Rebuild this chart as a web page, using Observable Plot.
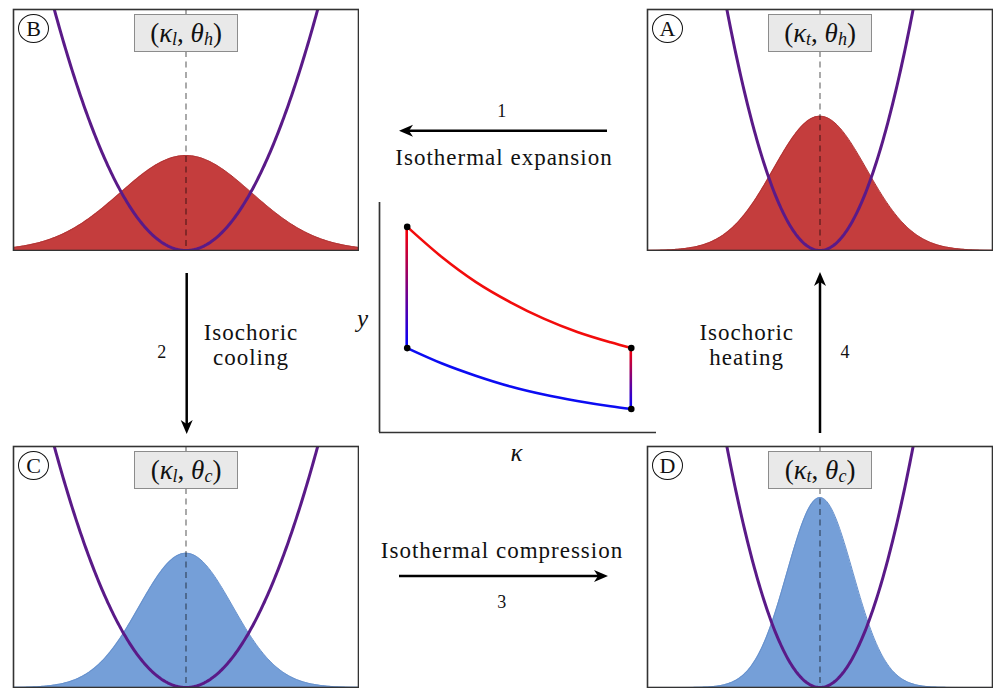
<!DOCTYPE html>
<html><head><meta charset="utf-8">
<script src="https://cdn.jsdelivr.net/npm/d3@7"></script>
<script src="https://cdn.jsdelivr.net/npm/@observablehq/plot@0.6"></script>
<style>
html,body{margin:0;padding:0;background:#fff;overflow:hidden}
#fig{position:relative;width:994px;height:688px;overflow:hidden;color:#111;background:#fff}
#fig div{font-family:"Liberation Serif","DejaVu Serif",serif}
.abs{position:absolute}
.t{position:absolute;white-space:nowrap;transform:translate(-50%,-50%);line-height:1;font-size:23px;letter-spacing:1px}
.num{position:absolute;white-space:nowrap;transform:translate(-50%,-50%);line-height:1;font-size:18px}
.circ{position:absolute;width:31px;height:29px;border:1.3px solid #111;border-radius:50%;display:flex;align-items:center;justify-content:center;font-size:22px;box-sizing:border-box;background:transparent}
.box{position:absolute;width:104px;height:38px;border:1.6px solid #8c8c8c;background:#e9e9e9;box-sizing:border-box;display:flex;align-items:center;justify-content:center;font-size:27px;transform:translateX(-50%);white-space:nowrap;line-height:1}
.box .sb{display:inline-block;font-size:18px;position:relative;top:6px;font-style:italic}
.box .it{font-style:italic}
</style>
</head><body>
<div id="fig"></div>
<script>
// ---------- data ----------
// stiffness and temperature labels with their relative values
const kappaNames = ["l", "t"];
const kappaValues = [1.0, 2.0];
const thetaNames = ["h", "c"];
const thetaValues = [1.0, 0.5];
// four states of the cycle (panel order: B, A, C, D)
const panelStates = ["B", "A", "C", "D"];
const panelKappa = ["l", "t", "l", "t"];
const panelTheta = ["h", "h", "c", "c"];
// peak height scale of the distribution (in potential units)
const densityScale = [0.788];
// position range of the panels and top of the potential axis
const positionExtent = [-2.62, 2.62];
const potentialMax = [2.0];

// cycle diagram (kappa, y)
const cycleKappa = [1.0, 2.26, 3.47, 4.73, 5.93, 7.14, 8.34, 9.09];
const hotY  = [0.894, 0.762, 0.655, 0.566, 0.495, 0.437, 0.392, 0.367];
const coldY = [0.367, 0.300, 0.247, 0.200, 0.165, 0.137, 0.114, 0.102];

// transition labels
const stepNumbers = ["1", "2", "3", "4"];
const stepNames = ["Isothermal expansion", "Isochoric cooling", "Isothermal compression", "Isochoric heating"];

// ---------- styles & layout ----------
const hotFill = "#c43d3d", hotEdge = "#b03434";
const coldFill = "#759fd8", coldEdge = "#6690cc";
const potColor = "#5a1a88";
const fig = document.getElementById("fig");
const panelPos = {B: [12, 8], A: [646, 8], C: [12, 445], D: [646, 445]};

function kv(n){ return kappaValues[kappaNames.indexOf(n)]; }
function tv(n){ return thetaValues[thetaNames.indexOf(n)]; }

const xs = d3.range(0, 301).map(i => positionExtent[0] + (positionExtent[1]-positionExtent[0]) * i / 300);

panelStates.forEach((s, i) => {
  const k = kv(panelKappa[i]), th = tv(panelTheta[i]);
  const hot = panelTheta[i] === "h";
  const amp = densityScale[0] * Math.sqrt(k / th);
  const dens = xs.map(x => ({x, p: amp * Math.exp(-k * x * x / (2 * th))}));
  const pot = xs.map(x => ({x, v: k * x * x / 2}));
  const chart = Plot.plot({
    width: 347, height: 243, margin: 1,
    x: {domain: positionExtent, axis: null},
    y: {domain: [0, potentialMax[0]], axis: null},
    marks: [
      Plot.areaY(dens, {x: "x", y: "p", fill: hot ? hotFill : coldFill}),
      Plot.line(dens, {x: "x", y: "p", stroke: hot ? hotEdge : coldEdge, strokeWidth: 1}),
      Plot.ruleX([0], {stroke: "#000", strokeOpacity: 0.42, strokeWidth: 1.6, strokeDasharray: "6,4.5"}),
      Plot.line(pot, {x: "x", y: "v", stroke: potColor, strokeWidth: 3, clip: true}),
      Plot.frame({stroke: "#333", strokeWidth: 1.6})
    ]
  });
  const wrap = document.createElement("div");
  wrap.className = "abs";
  wrap.style.left = panelPos[s][0] + "px";
  wrap.style.top = panelPos[s][1] + "px";
  wrap.appendChild(chart);
  fig.appendChild(wrap);
  const c = document.createElement("div");
  c.className = "circ";
  c.style.left = (panelPos[s][0] + 6) + "px";
  c.style.top = (panelPos[s][1] + 6) + "px";
  c.textContent = s;
  fig.appendChild(c);
  const b = document.createElement("div");
  b.className = "box";
  b.style.left = (panelPos[s][0] + 174) + "px";
  b.style.top = (panelPos[s][1] + 6) + "px";
  b.innerHTML = `(<span class="it">κ</span><span class="sb">${panelKappa[i]}</span>,&nbsp;<span class="it">θ</span><span class="sb">${panelTheta[i]}</span>)`;
  fig.appendChild(b);
});

// ---------- centre cycle plot ----------
const cyc = cycleKappa.map((k, i) => ({k, hot: hotY[i], cold: coldY[i]}));
const n = cyc.length - 1;
const corners = [
  {k: cycleKappa[0], y: hotY[0]}, {k: cycleKappa[0], y: coldY[0]},
  {k: cycleKappa[n], y: hotY[n]}, {k: cycleKappa[n], y: coldY[n]}
];
function gradSeg(id, k, yTop, yBot, cTop, cBot) {
  return (index, scales) => {
    const X = scales.x(k), Y1 = scales.y(yTop), Y2 = scales.y(yBot);
    const g = d3.create("svg:g");
    const lg = g.append("defs").append("linearGradient").attr("id", id)
      .attr("gradientUnits", "userSpaceOnUse")
      .attr("x1", X).attr("x2", X).attr("y1", Y1).attr("y2", Y2);
    lg.append("stop").attr("offset", 0).attr("stop-color", cTop);
    lg.append("stop").attr("offset", 1).attr("stop-color", cBot);
    g.append("line").attr("x1", X).attr("x2", X).attr("y1", Y1).attr("y2", Y2)
      .attr("stroke", `url(#${id})`).attr("stroke-width", 2.6);
    return g.node();
  };
}
const cycleChart = Plot.plot({
  width: 300, height: 250, marginLeft: 10, marginTop: 10, marginBottom: 10, marginRight: 13,
  x: {domain: [0, 10], axis: null},
  y: {domain: [0, 1], axis: null},
  marks: [
    Plot.ruleX([0], {y1: 0, y2: 1, stroke: "#333", strokeWidth: 1.7}),
    Plot.ruleY([0], {x1: 0, x2: 10, stroke: "#333", strokeWidth: 1.7}),
    gradSeg("gl", cycleKappa[0], hotY[0], coldY[0], "#ff0000", "#0000ff"),
    gradSeg("gr", cycleKappa[n], hotY[n], coldY[n], "#ff0000", "#0000ff"),
    Plot.line(cyc, {x: "k", y: "hot", stroke: "#f20c0c", strokeWidth: 2.6, curve: "monotone-x"}),
    Plot.line(cyc, {x: "k", y: "cold", stroke: "#0c0cf2", strokeWidth: 2.6, curve: "monotone-x"}),
    Plot.dot(corners, {x: "k", y: "y", r: 3.3, fill: "#000"})
  ]
});
const cw = document.createElement("div");
cw.className = "abs"; cw.style.left = "369px"; cw.style.top = "192px";
cw.appendChild(cycleChart);
fig.appendChild(cw);

// ---------- arrows ----------
const NS = "http://www.w3.org/2000/svg";
const ov = document.createElementNS(NS, "svg");
ov.setAttribute("width", 994); ov.setAttribute("height", 688);
ov.style.position = "absolute"; ov.style.left = "0"; ov.style.top = "0";
function arrow(x1, y1, x2, y2) {
  const L = Math.hypot(x2 - x1, y2 - y1), dx = (x2 - x1) / L, dy = (y2 - y1) / L;
  const nx = -dy, ny = dx, hl = 14, hw = 6, ind = 10;
  const line = document.createElementNS(NS, "line");
  line.setAttribute("x1", x1); line.setAttribute("y1", y1);
  line.setAttribute("x2", x2 - dx * ind); line.setAttribute("y2", y2 - dy * ind);
  line.setAttribute("stroke", "#000"); line.setAttribute("stroke-width", 2.5);
  ov.appendChild(line);
  const p = document.createElementNS(NS, "path");
  const bx = x2 - dx * hl, by = y2 - dy * hl;
  p.setAttribute("d", `M${x2},${y2} L${bx + nx * hw},${by + ny * hw} L${x2 - dx * ind},${y2 - dy * ind} L${bx - nx * hw},${by - ny * hw} Z`);
  p.setAttribute("fill", "#000");
  ov.appendChild(p);
}
arrow(607, 130.7, 399, 130.7);
arrow(186.7, 273, 186.7, 434);
arrow(399, 576, 608, 576);
arrow(820, 433, 820, 272);
fig.appendChild(ov);

// ---------- text ----------
function txt(cls, s, x, y, extra) {
  const d = document.createElement("div");
  d.className = cls; d.style.left = x + "px"; d.style.top = y + "px";
  d.textContent = s;
  if (extra) Object.assign(d.style, extra);
  fig.appendChild(d);
}
txt("num", stepNumbers[0], 501.7, 110.5);
txt("t", stepNames[0], 504, 157);
txt("num", stepNumbers[1], 161.7, 352);
const [iso2a, iso2b] = stepNames[1].split(" ");
txt("t", iso2a, 251, 332);
txt("t", iso2b, 251, 357);
txt("t", stepNames[2], 502, 549.5);
txt("num", stepNumbers[2], 501.7, 601.5);
const [iso4a, iso4b] = stepNames[3].split(" ");
txt("t", iso4a, 746.7, 332);
txt("t", iso4b, 746.7, 357);
txt("num", stepNumbers[3], 845, 352);
txt("t", "y", 363, 318, {fontStyle: "italic", fontSize: "25px"});
txt("t", "κ", 517, 452, {fontStyle: "italic", fontSize: "25px"});
</script>
</body></html>
